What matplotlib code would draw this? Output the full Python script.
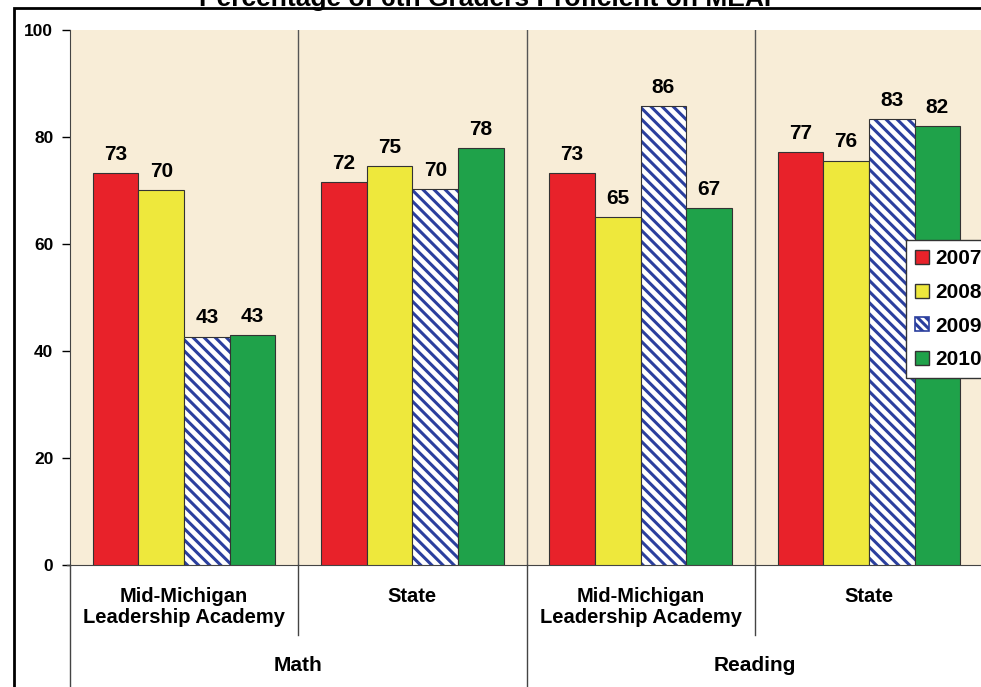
import matplotlib.pyplot as plt
from matplotlib.patches import Rectangle, Patch
import matplotlib.transforms as mtransforms

plt.rcParams['font.family'] = ['Liberation Sans', 'DejaVu Sans']
plt.rcParams['font.weight'] = 'bold'
plt.rcParams['hatch.linewidth'] = 2.2

# datos
grupos = ['Mid-Michigan\nLeadership Academy', 'State', 'Mid-Michigan\nLeadership Academy', 'State']
materias = ['Math', 'Reading']
anios = ['2007', '2008', '2009', '2010']
v2007 = [73.2, 71.6, 73.3, 77.2]
v2008 = [70.0, 74.6, 65.0, 75.6]
v2009 = [42.7, 70.3, 85.8, 83.4]
v2010 = [43.0, 77.9, 66.7, 82.1]
etiquetas = [[73, 72, 73, 77], [70, 75, 65, 76], [43, 70, 86, 83], [43, 78, 67, 82]]

colores = ['#E8222A', '#EEE83C', 'white', '#1FA24A']
hatches = [None, None, '\\\\\\', None]
azul = '#2B3F9E'

fig = plt.figure(figsize=(9.81, 6.87), dpi=100)
ax = fig.add_axes([70/981, 1-565/687, 913/981, 535/687])
ax.set_facecolor('#F8EDD7')

x = range(len(grupos))
series = [v2007, v2008, v2009, v2010]
handles = []
for i, vals in enumerate(series):
    pos = [g - 0.3 + 0.2*i for g in x]
    if hatches[i]:
        # rayado azul y luego el borde oscuro encima
        ax.bar(pos, vals, width=0.2, color='white', hatch=hatches[i],
               edgecolor=azul, linewidth=0, zorder=3)
        ax.bar(pos, vals, width=0.2, fill=False, edgecolor='#333333',
               linewidth=0.8, zorder=3)
        handles.append(Patch(facecolor='white', hatch='\\\\\\\\', edgecolor=azul,
                             linewidth=1.2, label=anios[i]))
    else:
        ax.bar(pos, vals, width=0.2, color=colores[i], edgecolor='#333333',
               linewidth=0.8, zorder=3)
        handles.append(Patch(facecolor=colores[i], edgecolor='#333333',
                             linewidth=1, label=anios[i]))
    for p, v, t in zip(pos, vals, etiquetas[i]):
        ax.text(p, v + 1.7, str(t), ha='center', va='bottom', fontsize=15,
                fontweight='bold', zorder=4)

ax.set_xlim(-0.5, 3.5)
ax.set_ylim(0, 100)
ax.set_yticks(range(0, 101, 20))
ax.tick_params(axis='y', labelsize=12.5, length=6, width=1, direction='out', pad=6)
ax.set_xticks([])
for s in ['top', 'right']:
    ax.spines[s].set_visible(False)
ax.spines['left'].set_color('#444444')
ax.spines['bottom'].set_color('#444444')

# separadores verticales
for sx in [0.5, 1.5, 2.5]:
    ax.axvline(sx, color='#555555', lw=1, zorder=2)

trans = mtransforms.blended_transform_factory(ax.transData, ax.transAxes)
for sx, largo in [(-0.5, -0.24), (0.5, -0.131), (1.5, -0.24), (2.5, -0.131)]:
    ax.plot([sx, sx], [0, largo], color='#444444', lw=1, transform=trans, clip_on=False)
ax.plot([-0.513, -0.5], [0, 0], color='#444444', lw=1, transform=trans, clip_on=False)

for g, nombre in zip(x, grupos):
    ax.text(g, -0.042, nombre, transform=trans, ha='center', va='top',
            fontsize=14.5, fontweight='bold', linespacing=1.12)
for k, m in enumerate(materias):
    ax.text(0.5 + 2*k, -0.187, m, transform=trans, ha='center', va='center',
            fontsize=15, fontweight='bold')

leg = ax.legend(handles=handles, loc='upper left', bbox_to_anchor=(906/981, 1-240/687),
                bbox_transform=fig.transFigure, fontsize=15, frameon=True,
                fancybox=False, edgecolor='#333333', facecolor='white', framealpha=1,
                handlelength=0.65, handleheight=0.65, handletextpad=0.3,
                labelspacing=0.7, borderpad=0.45, borderaxespad=0)
leg.get_frame().set_linewidth(1)
leg.set_zorder(10)

fig.text(0.5, 1-6/687, 'Percentage of 6th Graders Proficient on MEAP', ha='center',
         va='baseline', fontsize=19, fontweight='bold')
fig.add_artist(Rectangle((14/981, -0.1), 1.2, 1.1-8/687, transform=fig.transFigure,
                         fill=False, edgecolor='black', lw=2))

fig.savefig('out.png', dpi=100)
